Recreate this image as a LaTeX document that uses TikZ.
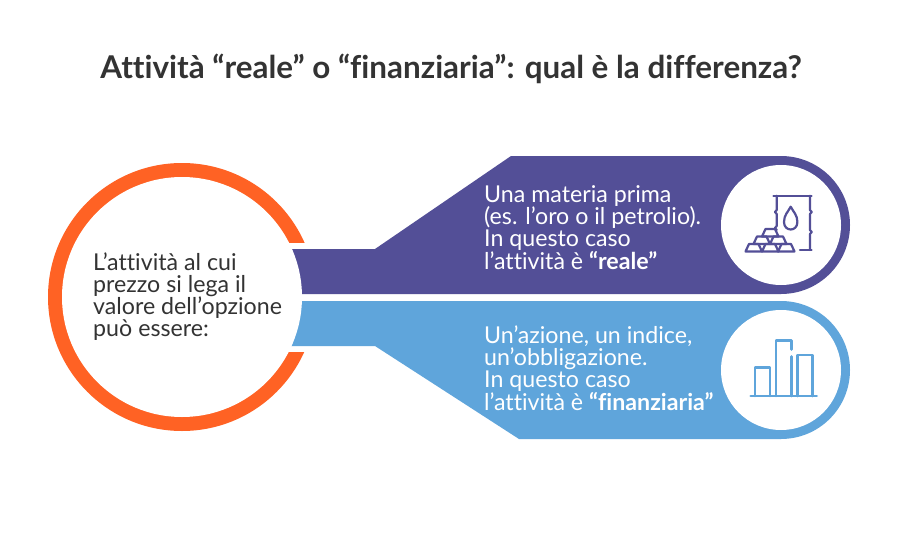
\documentclass[tikz,border=0pt]{standalone}
\usepackage{fontspec}
\setmainfont{Lato}[Ligatures=NoCommon]
\definecolor{ringorange}{HTML}{FF6224}
\definecolor{realpurple}{HTML}{534F97}
\definecolor{finblue}{HTML}{5FA5DB}
\definecolor{inkgray}{HTML}{333333}
\tikzset{
  titletext/.style={text=inkgray,font=\fontsize{31.4}{34}\selectfont\bfseries},
  lefttext/.style={text=inkgray,anchor=west,align=left,inner sep=0pt,font=\fontsize{23.2}{22}\selectfont},
  bandtext/.style={text=white,anchor=west,align=left,inner sep=0pt,font=\fontsize{23.2}{22}\selectfont},
  iconreal/.style={realpurple,line width=2.2pt,line cap=round,line join=round},
  iconfin/.style={finblue,line width=2.6pt,line cap=round,line join=round}
}
\begin{document}
\begin{tikzpicture}[x=1pt,y=-1pt]
\useasboundingbox (0,0) rectangle (900,554);
\fill[white] (0,0) rectangle (900,554);

\node[titletext] (title) at (451,69) {Attività “reale” o “finanziaria”: qual è la differenza?};

\fill[ringorange] (182,297) circle (134);
\fill[white] (270,243) rectangle (330,352);

\fill[realpurple] (270,249) -- (375,249) -- (511,156) -- (781,156) -- (781,294) -- (270,294) -- cycle;
\fill[realpurple] (781,225) circle (69);
\fill[finblue] (270,301) -- (781,301) -- (781,439) -- (519,439) -- (375,346) -- (270,346) -- cycle;
\fill[finblue] (781,370) circle (69);

\fill[white] (182,297) circle (120);
\fill[white] (781,225) circle (60);
\fill[white] (781,370) circle (60);

\node[lefttext] (leftlabel) at (93,296.5) {L’attività al cui\\prezzo si lega il\\valore dell’opzione\\può essere:};
\node[bandtext] (reallabel) at (484,227.5) {Una materia prima\\(es. l’oro o il petrolio).\\In questo caso\\l’attività è \textbf{“reale”}};
\node[bandtext] (finlabel) at (484,368.5) {Un’azione, un indice,\\un’obbligazione.\\In questo caso\\l’attività è \textbf{“finanziaria”}};

\draw[iconreal] (773.5,195.7) -- (811.5,195.7);
\draw[iconreal] (776.7,195.7) -- (776.7,210) -- (775,212) -- (776.7,214) -- (776.7,226) -- (775,228) -- (776.7,230);
\draw[iconreal] (810,195.7) -- (810,210) -- (811.7,212) -- (810,214) -- (810,230) -- (811.7,232) -- (810,234) -- (810,250);
\draw[iconreal] (800,250) -- (811.5,250);
\draw[iconreal] (790.7,206.7) .. controls (788,212) and (784,215) .. (784,222) .. controls (784,232) and (797.4,232) .. (797.4,222) .. controls (797.4,215) and (793.4,212) .. (790.7,206.7) -- cycle;
\foreach \barx/\bary in {745.5/251.5,762/251.5,778/251.5,753.5/244,770/244,762/236.5}
  \draw[iconreal] (\barx,\bary) -- ++(3.5,-7.5) -- ++(9.5,0) -- ++(3.5,7.5) -- cycle;

\draw[iconfin] (750.7,396) -- (816.7,396);
\draw[iconfin] (755,396) -- (755,367.3) -- (770,367.3) -- (770,396);
\draw[iconfin] (776,396) -- (776,340.7) -- (791.3,340.7) -- (791.3,349.5);
\draw[iconfin] (791.3,356.5) -- (791.3,396);
\draw[iconfin] (797.3,396) -- (797.3,355) -- (812.3,355) -- (812.3,396);
\end{tikzpicture}
\end{document}
